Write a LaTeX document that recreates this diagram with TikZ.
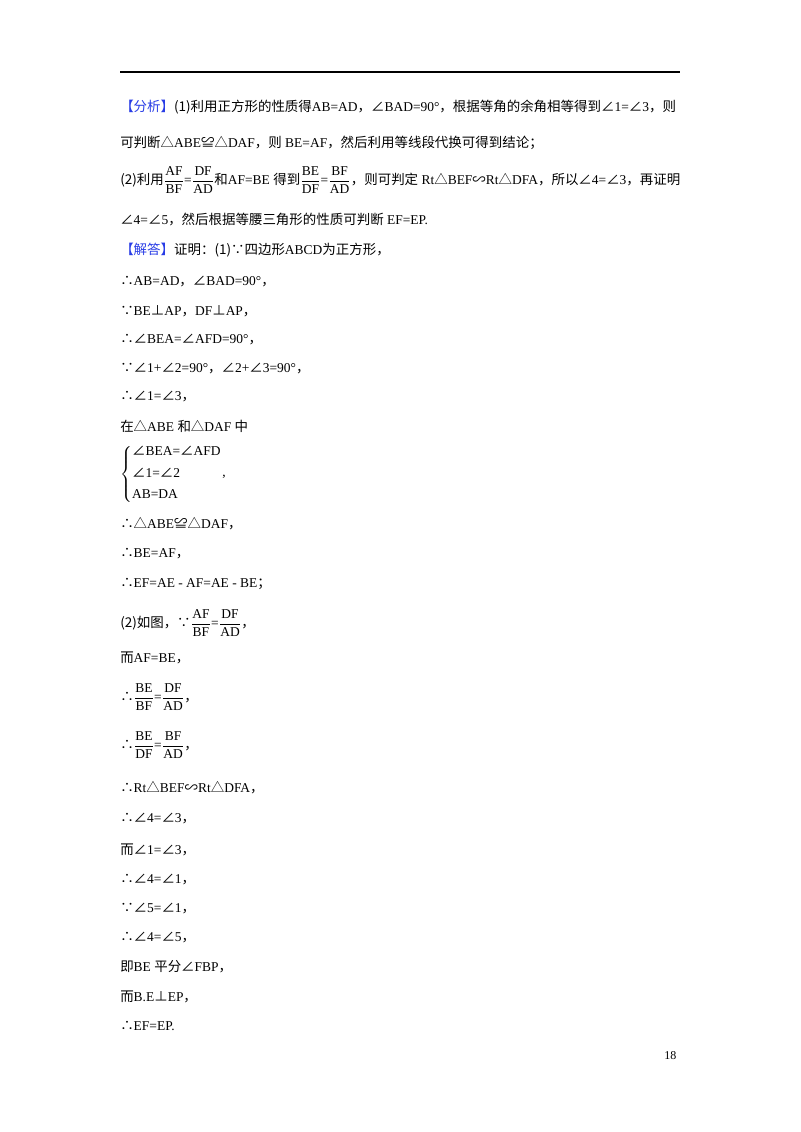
\documentclass[tikz,border=0pt]{standalone}
\usepackage{fontspec}
\usepackage{amsmath}
\setmainfont{Liberation Serif}
\newfontfamily\zh{Noto Sans CJK SC}
\newcommand{\Z}[1]{{\zh #1}}
\newcommand{\fr}[2]{$\dfrac{\text{#1}}{\text{#2}}$}
\definecolor{hdblue}{RGB}{40,60,230}
\begin{document}
\begin{tikzpicture}[x=0.75pt,y=-0.75pt,t/.style={anchor=west,inner sep=0pt,font=\fontsize{10.1pt}{12pt}\selectfont}]
\useasboundingbox (0,0) rectangle (800,1132);
\fill[white] (0,0) rectangle (800,1132);
\draw[line width=0.8pt] (120,72) -- (680,72);
\node[t] (l1) at (120,107) {\textcolor{hdblue}{\Z{【分析】}}\Z{(1)利用正方形的性质得}AB=AD\Z{，∠}BAD=90°\Z{，根据等角的余角相等得到∠}1=\Z{∠}3\Z{，则}};
\node[t] (l2) at (120,143) {\Z{可判断△}ABE\Z{≌△}DAF\Z{，则} BE=AF\Z{，然后利用等线段代换可得到结论；}};
\node[t] (l3) at (120,180) {\Z{(2)利用}\fr{AF}{BF}=\fr{DF}{AD}\Z{和}AF=BE \Z{得到}\fr{BE}{DF}=\fr{BF}{AD}\Z{，则可判定} Rt\Z{△}BEF\Z{∽}Rt\Z{△}DFA\Z{，所以∠}4=\Z{∠}3\Z{，再证明}};
\node[t] (l4) at (120,220) {\Z{∠}4=\Z{∠}5\Z{，然后根据等腰三角形的性质可判断} EF=EP.};
\node[t] (l5) at (120,250) {\textcolor{hdblue}{\Z{【解答】}}\Z{证明：(1)∵四边形}ABCD\Z{为正方形，}};
\node[t] (l6) at (120,282) {\Z{∴}AB=AD\Z{，∠}BAD=90°\Z{，}};
\node[t] (l7) at (120,311) {\Z{∵}BE\Z{⊥}AP\Z{，}DF\Z{⊥}AP\Z{，}};
\node[t] (l8) at (120,340) {\Z{∴∠}BEA=\Z{∠}AFD=90°\Z{，}};
\node[t] (l9) at (120,369) {\Z{∵∠}1+\Z{∠}2=90°\Z{，∠}2+\Z{∠}3=90°\Z{，}};
\node[t] (l10) at (120,397) {\Z{∴∠}1=\Z{∠}3\Z{，}};
\node[t] (l11) at (120,426) {\Z{在△}ABE \Z{和△}DAF \Z{中}};
\node[t] (br) at (120,474) {$\left\{\begin{array}{@{}l@{}}\text{\Z{∠}BEA=\Z{∠}AFD}\\[4pt]\text{\Z{∠}1=\Z{∠}2}\\[4pt]\text{AB=DA}\end{array}\right.$};
\node[t] (cm) at (222,477) {,};
\node[t] (l12) at (120,524) {\Z{∴△}ABE\Z{≌△}DAF\Z{，}};
\node[t] (l13) at (120,554) {\Z{∴}BE=AF\Z{，}};
\node[t] (l14) at (120,584) {\Z{∴}EF=AE - AF=AE - BE\Z{；}};
\node[t] (l15) at (120,623) {\Z{(2)如图，∵}\fr{AF}{BF}=\fr{DF}{AD}\Z{，}};
\node[t] (l16) at (120,658) {\Z{而}AF=BE\Z{，}};
\node[t] (l17) at (120,697) {\Z{∴}\fr{BE}{BF}=\fr{DF}{AD}\Z{，}};
\node[t] (l18) at (120,745) {\Z{∴}\fr{BE}{DF}=\fr{BF}{AD}\Z{，}};
\node[t] (l19) at (120,788) {\Z{∴}Rt\Z{△}BEF\Z{∽}Rt\Z{△}DFA\Z{，}};
\node[t] (l20) at (120,819) {\Z{∴∠}4=\Z{∠}3\Z{，}};
\node[t] (l21) at (120,850) {\Z{而∠}1=\Z{∠}3\Z{，}};
\node[t] (l22) at (120,880) {\Z{∴∠}4=\Z{∠}1\Z{，}};
\node[t] (l23) at (120,909) {\Z{∵∠}5=\Z{∠}1\Z{，}};
\node[t] (l24) at (120,938) {\Z{∴∠}4=\Z{∠}5\Z{，}};
\node[t] (l25) at (120,967) {\Z{即}BE \Z{平分∠}FBP\Z{，}};
\node[t] (l26) at (120,997) {\Z{而}B.E\Z{⊥}EP\Z{，}};
\node[t] (l27) at (120,1026) {\Z{∴}EF=EP.};
\node[t,font=\fontsize{9pt}{10pt}\selectfont] (pg) at (664,1056) {18};
\end{tikzpicture}
\end{document}
